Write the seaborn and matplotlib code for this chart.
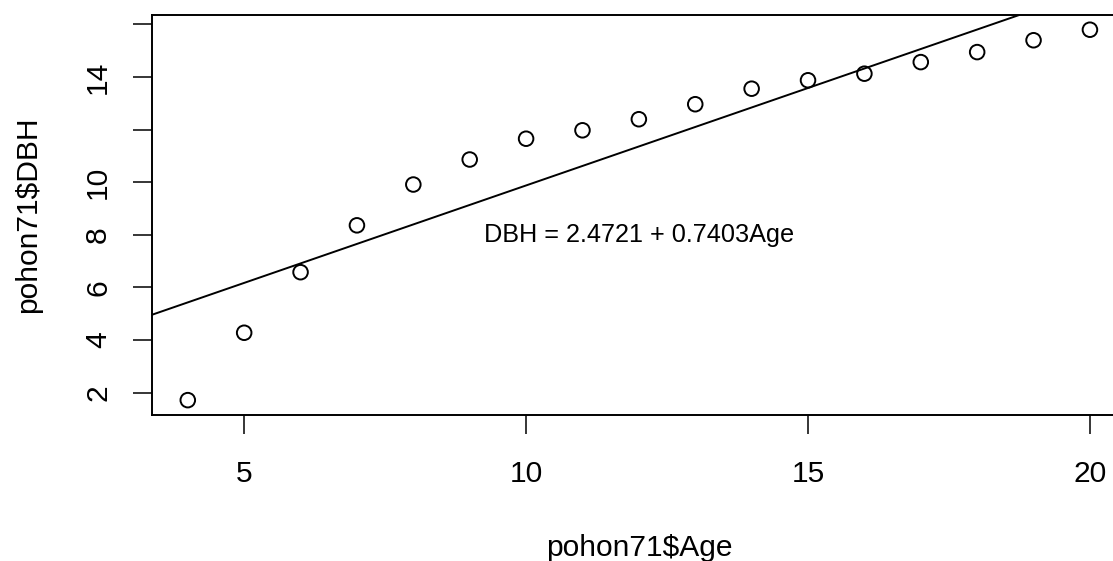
import numpy as np
import pandas as pd
import matplotlib
matplotlib.use("Agg")
import matplotlib.pyplot as plt
import seaborn as sns

# values
age = [4, 5, 6, 7, 8, 9, 10, 11, 12, 13, 14, 15, 16, 17, 18, 19, 20]
dbh = [1.72, 4.28, 6.58, 8.36, 9.91, 10.86, 11.65, 11.97, 12.39, 12.96,
       13.55, 13.87, 14.12, 14.56, 14.94, 15.39, 15.79]
intercept = 2.4721
slope = 0.7403
y_ticks = [2, 4, 6, 8, 10, 12, 14, 16]
y_tick_labels = ['2', '4', '6', '8', '10', '', '14', '']
x_ticks = [5, 10, 15, 20]

df = pd.DataFrame({'Age': age, 'DBH': dbh})

sns.set_style("ticks")
plt.rcParams['font.family'] = ['Liberation Sans', 'DejaVu Sans']

fig = plt.figure(figsize=(11.13, 5.61), dpi=100)
ax = fig.add_axes([0.1363, 0.2603, 0.8754, 0.713])

sns.scatterplot(data=df, x='Age', y='DBH', ax=ax, s=110, facecolor='none',
                edgecolor='black', linewidth=1.4, marker='o')

# fitted line from the printed equation
ax.axline((0, intercept), slope=slope, color='black', lw=1.4)

ax.text(12, 8, f'DBH = {intercept} + {slope}Age', ha='center', va='center',
        fontsize=18.2, color='black')

ax.set_xlim(3.36, 20.64)
ax.set_ylim(1.157, 16.35)
ax.set_xticks(x_ticks)
ax.set_yticks(y_ticks)
ax.set_yticklabels(y_tick_labels, rotation=90, va='center')

ax.tick_params(axis='both', length=13.5, width=1.1, color='black',
               labelsize=21.6, labelcolor='black', direction='out')
ax.tick_params(axis='x', pad=19)
ax.tick_params(axis='y', pad=15)

ax.set_xlabel('pohon71$Age', fontsize=21.6, labelpad=33, color='black')
ax.set_ylabel('pohon71$DBH', fontsize=21.6, labelpad=30, color='black')

for side in ['left', 'top', 'bottom', 'right']:
    ax.spines[side].set_visible(True)
    ax.spines[side].set_color('black')
    ax.spines[side].set_linewidth(1.4)

fig.savefig('out.png', dpi=100, facecolor='white')
